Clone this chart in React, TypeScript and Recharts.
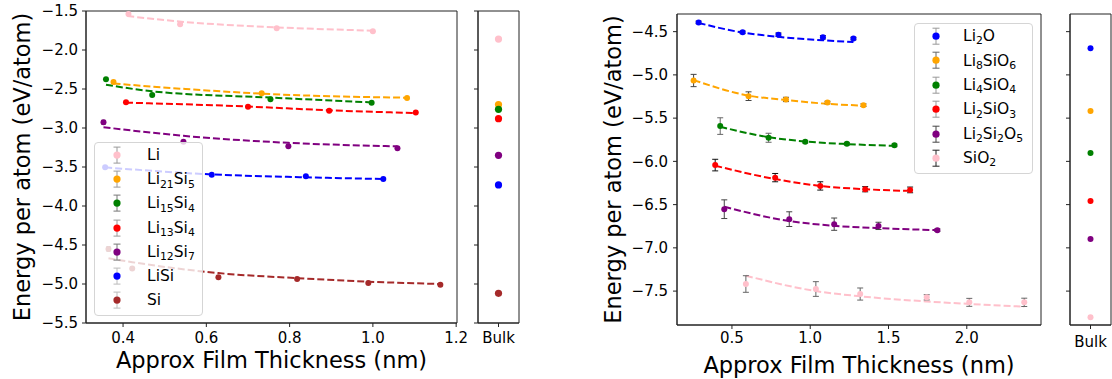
import {
  ComposedChart,
  ErrorBar,
  Legend,
  Line,
  ReferenceArea,
  Scatter,
  XAxis,
  YAxis,
} from 'recharts'

const FONT = '"DejaVu Sans", Verdana, sans-serif'

// ---------- left panel: Li–Si alloys ----------
const ALLOY_NAMES = ['Li', 'Li_21Si_5', 'Li_15Si_4', 'Li_13Si_4', 'Li_12Si_7', 'LiSi', 'Si']
const ALLOY_COLORS = ['#ffc0cb', '#ffa500', '#008000', '#ff0000', '#800080', '#0000ff', '#a52a2a']
const ALLOY_BULK = [-1.86, -2.7, -2.76, -2.88, -3.35, -3.73, -5.12]

// film points: [thickness (nm), energy (eV/atom), error]
const li = [[0.413, -1.54, 0.015], [0.537, -1.67, 0.015], [0.769, -1.72, 0.012], [1.0, -1.76, 0.012]]
const li21si5 = [[0.377, -2.41, 0.015], [0.733, -2.555, 0.012], [1.082, -2.615, 0.01]]
const li15si4 = [[0.359, -2.376, 0.015], [0.47, -2.577, 0.012], [0.754, -2.632, 0.012], [0.997, -2.675, 0.01]]
const li13si4 = [[0.407, -2.67, 0.015], [0.7, -2.727, 0.012], [0.895, -2.78, 0.01], [1.103, -2.8, 0.01]]
const li12si7 = [[0.353, -2.927, 0.025], [0.545, -3.175, 0.015], [0.797, -3.235, 0.015], [1.059, -3.26, 0.01]]
const lisi = [[0.357, -3.504, 0.015], [0.613, -3.6, 0.012], [0.839, -3.62, 0.012], [1.025, -3.654, 0.01]]
const si = [[0.365, -4.55, 0.03], [0.422, -4.8, 0.015], [0.629, -4.915, 0.015], [0.818, -4.936, 0.012], [0.989, -4.987, 0.012], [1.162, -5.01, 0.01]]

// fitted curves: [thickness, energy]
const liFit = [[0.41, -1.565], [0.54, -1.637], [0.77, -1.71], [1.0, -1.752]]
const li21si5Fit = [[0.377, -2.43], [0.55, -2.5], [0.733, -2.56], [1.082, -2.612]]
const li15si4Fit = [[0.359, -2.445], [0.47, -2.53], [0.754, -2.61], [0.997, -2.672]]
const li13si4Fit = [[0.407, -2.675], [0.7, -2.725], [0.895, -2.773], [1.103, -2.808]]
const li12si7Fit = [[0.353, -2.99], [0.545, -3.1], [0.797, -3.19], [1.059, -3.235]]
const lisiFit = [[0.357, -3.505], [0.613, -3.595], [0.839, -3.632], [1.025, -3.654]]
const siFit = [[0.365, -4.67], [0.422, -4.72], [0.629, -4.86], [0.818, -4.925], [0.989, -4.97], [1.162, -5.0]]

const ALLOY_PTS = [li, li21si5, li15si4, li13si4, li12si7, lisi, si]
const ALLOY_FITS = [liFit, li21si5Fit, li15si4Fit, li13si4Fit, li12si7Fit, lisiFit, siFit]
const ALLOY_ERR = ['#333', '#333', '#222', '#222', '#222', '#222', '#222']
const ALLOY_ICON_ERR = ['#999', '#999', '#777', '#999', '#777', '#bbb', '#bbb']

// ---------- right panel: lithium silicates ----------
const OXIDE_NAMES = ['Li_2O', 'Li_8SiO_6', 'Li_4SiO_4', 'Li_2SiO_3', 'Li_2Si_2O_5', 'SiO_2']
const OXIDE_COLORS = ['#0000ff', '#ffa500', '#008000', '#ff0000', '#800080', '#ffc0cb']
const OXIDE_BULK = [-4.692, -5.419, -5.904, -6.457, -6.899, -7.802]

const li2o = [[0.287, -4.393, 0.015], [0.568, -4.508, 0.015], [0.797, -4.535, 0.02], [1.081, -4.565, 0.02], [1.276, -4.58, 0.015]]
const li8sio6 = [[0.255, -5.065, 0.071], [0.606, -5.246, 0.05], [0.845, -5.284, 0.025], [1.11, -5.32, 0.015], [1.34, -5.35, 0.015]]
const li4sio4 = [[0.425, -5.592, 0.096], [0.734, -5.727, 0.052], [0.968, -5.773, 0.015], [1.234, -5.796, 0.015], [1.538, -5.815, 0.015]]
const li2sio3 = [[0.393, -6.043, 0.067], [0.776, -6.188, 0.048], [1.064, -6.284, 0.048], [1.351, -6.322, 0.03], [1.638, -6.33, 0.033]]
const li2si2o5 = [[0.451, -6.553, 0.108], [0.866, -6.668, 0.085], [1.153, -6.726, 0.071], [1.436, -6.746, 0.042], [1.812, -6.795, 0.015]]
const sio2 = [[0.589, -7.418, 0.096], [1.036, -7.476, 0.085], [1.319, -7.534, 0.07], [1.744, -7.572, 0.03], [2.016, -7.63, 0.046], [2.367, -7.63, 0.048]]

const li2oFit = [[0.287, -4.4], [0.568, -4.51], [0.797, -4.56], [1.081, -4.6], [1.276, -4.62]]
const li8sio6Fit = [[0.255, -5.06], [0.606, -5.24], [0.845, -5.29], [1.11, -5.335], [1.34, -5.355]]
const li4sio4Fit = [[0.425, -5.6], [0.734, -5.72], [0.968, -5.77], [1.234, -5.8], [1.538, -5.82]]
const li2sio3Fit = [[0.393, -6.05], [0.776, -6.205], [1.064, -6.284], [1.351, -6.322], [1.638, -6.342]]
const li2si2o5Fit = [[0.451, -6.525], [0.866, -6.69], [1.153, -6.745], [1.436, -6.772], [1.812, -6.795]]
const sio2Fit = [[0.589, -7.322], [1.036, -7.5], [1.319, -7.56], [1.744, -7.62], [2.016, -7.648], [2.367, -7.68]]

const OXIDE_PTS = [li2o, li8sio6, li4sio4, li2sio3, li2si2o5, sio2]
const OXIDE_FITS = [li2oFit, li8sio6Fit, li4sio4Fit, li2sio3Fit, li2si2o5Fit, sio2Fit]
const OXIDE_ERR = ['#333', '#444', '#666', '#111', '#444', '#666']
const OXIDE_ICON_ERR = ['#999', '#666', '#999', '#999', '#444', '#222']

// axes
const LEFT_X_TICKS = [0.4, 0.6, 0.8, 1.0, 1.2]
const LEFT_Y_TICKS = [-5.5, -5.0, -4.5, -4.0, -3.5, -3.0, -2.5, -2.0, -1.5]
const RIGHT_X_TICKS = [0.5, 1.0, 1.5, 2.0]
const RIGHT_Y_TICKS = [-7.5, -7.0, -6.5, -6.0, -5.5, -5.0, -4.5]
const LEFT_X_DOMAIN: [number, number] = [0.311, 1.202]
const LEFT_Y_DOMAIN: [number, number] = [-5.5, -1.5]
const RIGHT_X_DOMAIN: [number, number] = [0.149, 2.474]
const RIGHT_Y_DOMAIN: [number, number] = [-7.892, -4.296]

const fmt = (v: number) => v.toFixed(1).replace('-', '\u2212')
const tickStyle = { fontSize: 15, fill: '#000', fontFamily: FONT }

type Series = { name: string; color: string; err: string; icon: string; pts: number[][]; fit: number[][]; bulk: number }

const ALLOYS: Series[] = ALLOY_NAMES.map((name, i) => ({
  name, color: ALLOY_COLORS[i], err: ALLOY_ERR[i], icon: ALLOY_ICON_ERR[i],
  pts: ALLOY_PTS[i], fit: ALLOY_FITS[i], bulk: ALLOY_BULK[i],
}))
const OXIDES: Series[] = OXIDE_NAMES.map((name, i) => ({
  name, color: OXIDE_COLORS[i], err: OXIDE_ERR[i], icon: OXIDE_ICON_ERR[i],
  pts: OXIDE_PTS[i], fit: OXIDE_FITS[i], bulk: OXIDE_BULK[i],
}))

const toPts = (rows: number[][]) => rows.map(([x, y, e]) => ({ x, y, e }))
const toFit = (rows: number[][]) => rows.map(([x, y]) => ({ x, y }))

function Formula({ name }: { name: string }) {
  const parts = name.split(/_(\d+)/)
  return (
    <>
      {parts.map((p, i) =>
        i % 2 ? (
          <span key={i} style={{ fontSize: '0.7em', position: 'relative', top: '0.3em' }}>{p}</span>
        ) : (
          <span key={i}>{p}</span>
        ),
      )}
    </>
  )
}

function LegendBox({ series, width, marker, textAt, row }: { series: Series[]; width: number; marker: number; textAt: number; row: number }) {
  return (
    <div
      style={{
        width,
        boxSizing: 'border-box',
        background: 'rgba(255,255,255,0.8)',
        border: '1px solid #d5d5d5',
        borderRadius: 4,
        padding: '0 0 3px 0',
        fontFamily: FONT,
        fontSize: 15.5,
        color: '#000',
      }}
    >
      {series.map((s) => (
        <div key={s.name} style={{ display: 'flex', alignItems: 'center', height: row }}>
          <svg width={textAt - 1} height={row} style={{ flex: 'none' }}>
            <line x1={marker - 1} x2={marker - 1} y1={row / 2 - 8} y2={row / 2 + 8} stroke={s.icon} strokeWidth={1} />
            <line x1={marker - 4.5} x2={marker + 2.5} y1={row / 2 - 8} y2={row / 2 - 8} stroke={s.icon} strokeWidth={1} />
            <line x1={marker - 4.5} x2={marker + 2.5} y1={row / 2 + 8} y2={row / 2 + 8} stroke={s.icon} strokeWidth={1} />
            <circle cx={marker - 1} cy={row / 2} r={3.6} fill={s.color} />
          </svg>
          <span style={{ whiteSpace: 'nowrap' }}>
            <Formula name={s.name} />
          </span>
        </div>
      ))}
    </div>
  )
}

interface PanelProps {
  series: Series[]
  left: number
  width: number
  right: number
  top: number
  yAxisWidth: number
  xAxisHeight: number
  xDomain: [number, number]
  yDomain: [number, number]
  xTicks: number[]
  yTicks: number[]
  xTickMargin: number
  yTickMargin: number
  yTitleX: number
  xTitleDy: number
  dotR: number
  cap: number
  legend: { left: number; top: number; width: number; marker: number; textAt: number; row: number }
}

function FilmPanel(p: PanelProps) {
  const height = 379
  const plotLeft = p.yAxisWidth
  const plotW = p.width - p.yAxisWidth - p.right
  const plotBottom = height - p.xAxisHeight
  const xTitle = (props: any) => {
    const vb = props?.viewBox ?? {}
    const cx = (vb.x ?? plotLeft) + (vb.width ?? plotW) / 2
    const y = (vb.y ?? plotBottom) + p.xTitleDy
    return (
      <text x={cx} y={y} textAnchor="middle" fontSize={22.5} fontFamily={FONT} fill="#000">
        Approx Film Thickness (nm)
      </text>
    )
  }
  const yTitle = (props: any) => {
    const vb = props?.viewBox ?? {}
    const cx = (vb.x ?? 0) + p.yTitleX
    const cy = (vb.y ?? p.top) + (vb.height ?? plotBottom - p.top) / 2
    return (
      <text x={cx} y={cy} transform={`rotate(-90 ${cx} ${cy})`} textAnchor="middle" fontSize={22.5} fontFamily={FONT} fill="#000">
        Energy per atom (eV/atom)
      </text>
    )
  }
  return (
    <div style={{ position: 'absolute', left: p.left, top: 0 }}>
      <ComposedChart width={p.width} height={height} margin={{ top: p.top, right: p.right, bottom: 0, left: 0 }}>
        <XAxis
          dataKey="x"
          type="number"
          domain={p.xDomain}
          ticks={p.xTicks}
          allowDataOverflow
          tickFormatter={fmt}
          tick={tickStyle}
          tickSize={4}
          tickMargin={p.xTickMargin}
          height={p.xAxisHeight}
          stroke="#222"
          label={xTitle}
        />
        <YAxis
          dataKey="y"
          type="number"
          domain={p.yDomain}
          ticks={p.yTicks}
          allowDataOverflow
          tickFormatter={fmt}
          tick={tickStyle}
          tickSize={4}
          tickMargin={p.yTickMargin}
          width={p.yAxisWidth}
          stroke="#222"
          label={yTitle}
        />
        <ReferenceArea x1={p.xDomain[0]} x2={p.xDomain[1]} y1={p.yDomain[0]} y2={p.yDomain[1]} fill="none" stroke="#222" strokeWidth={1} />
        {p.series.map((s) => (
          <Line
            key={'fit-' + s.name}
            data={toFit(s.fit)}
            dataKey="y"
            type="monotone"
            stroke={s.color}
            strokeWidth={2}
            strokeDasharray="7 3"
            dot={false}
            activeDot={false}
            legendType="none"
            isAnimationActive={false}
          />
        ))}
        {p.series.map((s) => (
          <Scatter
            key={s.name}
            name={s.name}
            data={toPts(s.pts)}
            fill={s.color}
            isAnimationActive={false}
            shape={(d: any) => <circle cx={d.cx} cy={d.cy} r={p.dotR} fill={s.color} />}
          >
            <ErrorBar dataKey="e" direction="y" width={p.cap} stroke={s.err} strokeWidth={1} />
          </Scatter>
        ))}
        <Legend
          layout="vertical"
          align="center"
          verticalAlign="middle"
          wrapperStyle={{ left: p.legend.left, top: p.legend.top, width: p.legend.width }}
          content={() => (
            <LegendBox series={p.series} width={p.legend.width} marker={p.legend.marker} textAt={p.legend.textAt} row={p.legend.row} />
          )}
        />
      </ComposedChart>
    </div>
  )
}

function BulkPanel({ series, left, top, xAxisHeight, yDomain, yTicks, tickMargin, dotR }: {
  series: Series[]; left: number; top: number; xAxisHeight: number; yDomain: [number, number]; yTicks: number[]; tickMargin: number; dotR: number
}) {
  return (
    <div style={{ position: 'absolute', left, top: 0 }}>
      <ComposedChart width={60} height={379} margin={{ top, right: 1, bottom: 0, left: 0 }}>
        <XAxis
          dataKey="x"
          type="number"
          domain={[0, 2]}
          ticks={[1]}
          allowDataOverflow
          tickFormatter={() => 'Bulk'}
          tick={tickStyle}
          tickSize={4}
          tickMargin={tickMargin}
          height={xAxisHeight}
          stroke="#222"
        />
        <YAxis
          dataKey="y"
          type="number"
          domain={yDomain}
          ticks={yTicks}
          allowDataOverflow
          tickFormatter={() => ''}
          tickSize={4}
          width={18}
          stroke="#222"
        />
        <ReferenceArea x1={0} x2={2} y1={yDomain[0]} y2={yDomain[1]} fill="none" stroke="#222" strokeWidth={1} />
        {series.map((s) => (
          <Scatter
            key={s.name}
            name={s.name}
            data={[{ x: 1, y: s.bulk, e: 0.012 }]}
            fill={s.color}
            isAnimationActive={false}
            shape={(d: any) => <circle cx={d.cx} cy={d.cy} r={dotR} fill={s.color} />}
          >
            <ErrorBar dataKey="e" direction="y" width={2.5} stroke="#aaa" strokeWidth={1} />
          </Scatter>
        ))}
      </ComposedChart>
    </div>
  )
}

export default function App() {
  return (
    <div style={{ position: 'absolute', left: 0, top: 0, width: 1112, height: 379, background: '#fff' }}>
      <FilmPanel
        series={ALLOYS}
        left={0}
        width={476}
        right={19}
        top={11}
        yAxisWidth={86}
        xAxisHeight={56}
        xDomain={LEFT_X_DOMAIN}
        yDomain={LEFT_Y_DOMAIN}
        xTicks={LEFT_X_TICKS}
        yTicks={LEFT_Y_TICKS}
        xTickMargin={5.5}
        yTickMargin={4}
        yTitleX={29.7}
        xTitleDy={45.3}
        dotR={3}
        cap={2}
        legend={{ left: 94, top: 142, width: 109, marker: 23, textAt: 53, row: 24.2 }}
      />
      <BulkPanel series={ALLOYS} left={460} top={11} xAxisHeight={56} yDomain={LEFT_Y_DOMAIN} yTicks={LEFT_Y_TICKS} tickMargin={5.5} dotR={3.6} />
      <FilmPanel
        series={OXIDES}
        left={580}
        width={464}
        right={3}
        top={14}
        yAxisWidth={97}
        xAxisHeight={54}
        xDomain={RIGHT_X_DOMAIN}
        yDomain={RIGHT_Y_DOMAIN}
        xTicks={RIGHT_X_TICKS}
        yTicks={RIGHT_Y_TICKS}
        xTickMargin={3.5}
        yTickMargin={5}
        yTitleX={41.4}
        xTitleDy={47.7}
        dotR={3}
        cap={3}
        legend={{ left: 334, top: 23, width: 119, marker: 22, textAt: 49, row: 24.4 }}
      />
      <BulkPanel series={OXIDES} left={1052} top={14} xAxisHeight={54} yDomain={RIGHT_Y_DOMAIN} yTicks={RIGHT_Y_TICKS} tickMargin={7} dotR={3} />
    </div>
  )
}
